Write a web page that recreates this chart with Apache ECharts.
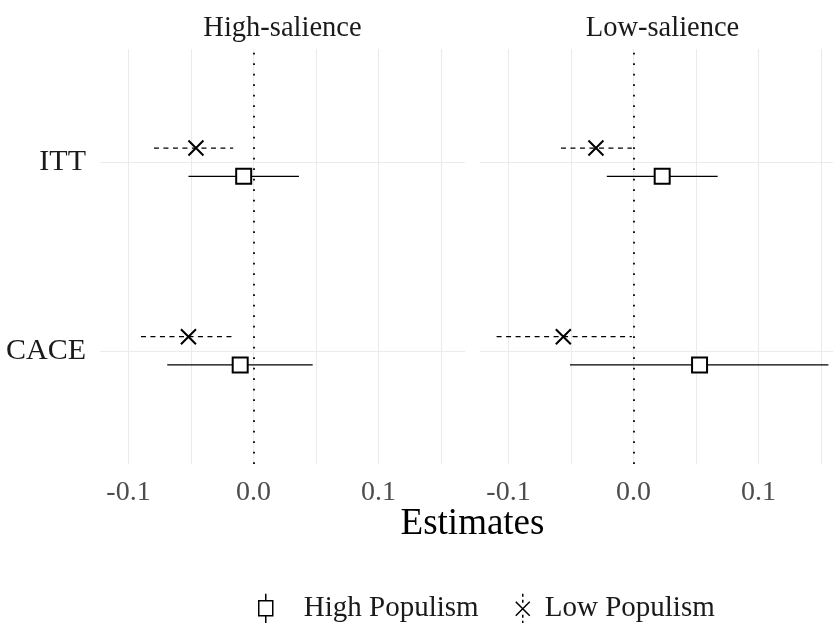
<!DOCTYPE html>
<html><head><meta charset="utf-8">
<script src="https://cdn.jsdelivr.net/npm/echarts@6/dist/echarts.min.js"></script>
<style>html,body{margin:0;padding:0;background:#fff}#c{width:833px;height:623px}</style>
</head><body><div id="c"></div>
<script>
// ---- data ----
const categories = ['ITT', 'CACE'];
const categoryPos = [2, 1];
const panels = ['High-salience', 'Low-salience'];
const groups = ['High Populism', 'Low Populism'];
// High-salience panel
const hsHighEst = [-0.0078, -0.0106];
const hsHighLo  = [-0.0520, -0.0690];
const hsHighHi  = [ 0.0364,  0.0474];
const hsLowEst  = [-0.0460, -0.0520];
const hsLowLo   = [-0.0796, -0.0900];
const hsLowHi   = [-0.0162, -0.0175];
// Low-salience panel
const lsHighEst = [ 0.0230,  0.0529];
const lsHighLo  = [-0.0213, -0.0508];
const lsHighHi  = [ 0.0674,  0.1560];
const lsLowEst  = [-0.0300, -0.0561];
const lsLowLo   = [-0.0580, -0.1095];
const lsLowHi   = [-0.0013, -0.0013];
const xTickLabels = [-0.1, 0.0, 0.1];
const xGridValues = [-0.1, -0.05, 0, 0.05, 0.1, 0.15];

const panelData = [
  { high: { est: hsHighEst, lo: hsHighLo, hi: hsHighHi }, low: { est: hsLowEst, lo: hsLowLo, hi: hsLowHi } },
  { high: { est: lsHighEst, lo: lsHighLo, hi: lsHighHi }, low: { est: lsLowEst, lo: lsLowLo, hi: lsLowHi } }
];
const allVals = [].concat(hsHighLo, hsHighHi, hsLowLo, hsLowHi, lsHighLo, lsHighHi, lsLowLo, lsLowHi);
const dMin = Math.min.apply(null, allVals), dMax = Math.max.apply(null, allVals);
const span = dMax - dMin;
const xMin = dMin - 0.05 * span, xMax = dMax + 0.05 * span;

const FONT = '"Liberation Serif","DejaVu Serif",serif';
const dodge = 0.075;

const series = [];
panelData.forEach((pd, p) => {
  series.push({
    type: 'line', xAxisIndex: p, yAxisIndex: p, data: [], silent: true, z: 0,
    markLine: {
      silent: true, symbol: 'none', z: 0, animation: false, label: { show: false },
      lineStyle: { color: '#ebebeb', width: 1.1, type: 'solid' },
      emphasis: { disabled: true },
      data: xGridValues.map(v => ({ xAxis: v })).concat(categoryPos.map(v => ({ yAxis: v })))
    }
  });
  series.push({
    type: 'line', xAxisIndex: p, yAxisIndex: p, data: [], silent: true, z: 1,
    markLine: {
      silent: true, symbol: 'none', z: 1, animation: false, label: { show: false },
      lineStyle: { color: '#000', width: 1.8, type: [1.8, 8.7] },
      emphasis: { disabled: true },
      data: [{ xAxis: 0 }]
    }
  });
  ['high', 'low'].forEach((g, gi) => {
    const d = pd[g];
    const off = g === 'high' ? -dodge : dodge;
    series.push({
      type: 'custom', name: groups[gi] + ' interval', xAxisIndex: p, yAxisIndex: p, z: 2, silent: true,
      data: categoryPos.map((c, i) => [d.lo[i], d.hi[i], c + off]),
      encode: { x: [0, 1], y: 2 },
      renderItem: (params, api) => {
        const a = api.coord([api.value(0), api.value(2)]);
        const b = api.coord([api.value(1), api.value(2)]);
        return {
          type: 'line',
          shape: { x1: a[0], y1: a[1], x2: b[0], y2: b[1] },
          style: { stroke: '#000', lineWidth: 1.2, lineDash: g === 'low' ? [5, 4.5] : null }
        };
      }
    });
    series.push({
      type: 'scatter', name: groups[gi], xAxisIndex: p, yAxisIndex: p, z: 3, silent: true,
      data: categoryPos.map((c, i) => [d.est[i], c + off]),
      symbol: g === 'high' ? 'rect' : 'path://M0,0L10,10M10,0L0,10',
      symbolSize: g === 'high' ? 15 : 15,
      itemStyle: g === 'high'
        ? { color: '#fff', borderColor: '#000', borderWidth: 2, opacity: 1 }
        : { color: '#000', borderColor: '#000', borderWidth: 2, opacity: 1 }
    });
  });
});

const xAxes = [], yAxes = [];
[0, 1].forEach(p => {
  xAxes.push({
    type: 'value', gridIndex: p, min: xMin, max: xMax,
    axisLine: { show: false }, axisTick: { show: false }, splitLine: { show: false },
    axisLabel: { customValues: xTickLabels, formatter: v => v.toFixed(1), color: '#4d4d4d', fontSize: 28, fontFamily: FONT, margin: 15 }
  });
  yAxes.push({
    type: 'value', gridIndex: p, min: 0.4, max: 2.6,
    axisLine: { show: false }, axisTick: { show: false }, splitLine: { show: false },
    axisLabel: p === 0
      ? { customValues: categoryPos, formatter: v => categories[categoryPos.indexOf(v)], color: '#1a1a1a', fontSize: 30, fontFamily: FONT, margin: 14 }
      : { show: false }
  });
});
[0, 1].forEach(p => {
  xAxes.push({
    type: 'value', gridIndex: p, position: 'top', min: xMin, max: xMax,
    axisLine: { show: false }, axisTick: { show: false }, splitLine: { show: false }, axisLabel: { show: false },
    name: panels[p], nameLocation: 'middle', nameGap: 6,
    nameTextStyle: { fontSize: 28.5, color: '#1a1a1a', fontFamily: FONT }
  });
});

const chart = echarts.init(document.getElementById('c'), null, { renderer: 'canvas' });
chart.setOption({
  animation: false,
  backgroundColor: '#fff',
  grid: [
    { left: 100, top: 49, width: 365, height: 415, outerBoundsMode: 'none', containLabel: false },
    { left: 480, top: 49, width: 365, height: 415, outerBoundsMode: 'none', containLabel: false }
  ],
  xAxis: xAxes,
  yAxis: yAxes,
  legend: [
    {
      left: 253, top: 588, itemWidth: 16, itemHeight: 30, selectedMode: false,
      data: [{ name: 'High Populism', icon: 'path://M8,0V7M8,22V30M1,7H15V22H1Z' }],
      itemStyle: { color: '#fff', borderColor: '#000', borderWidth: 1.5 },
      textStyle: { fontSize: 29, fontFamily: FONT, color: '#1a1a1a', padding: [0, 0, 0, 25] }
    },
    {
      left: 510, top: 588, itemWidth: 16, itemHeight: 30, selectedMode: false,
      data: [{ name: 'Low Populism', icon: 'path://M8,0V3M8,6V9M1,8L15,22M15,8L1,22M8,21V24M8,27V30' }],
      itemStyle: { color: 'rgba(0,0,0,0)', borderColor: '#000', borderWidth: 1.5 },
      textStyle: { fontSize: 29, fontFamily: FONT, color: '#1a1a1a', padding: [0, 0, 0, 9] }
    }
  ],
  graphic: [{
    type: 'text', x: 472.5, y: 524,
    style: { text: 'Estimates', fontSize: 37, fontFamily: FONT, fill: '#000', align: 'center', verticalAlign: 'middle' }
  }],
  series: series
});
</script>
</body></html>
